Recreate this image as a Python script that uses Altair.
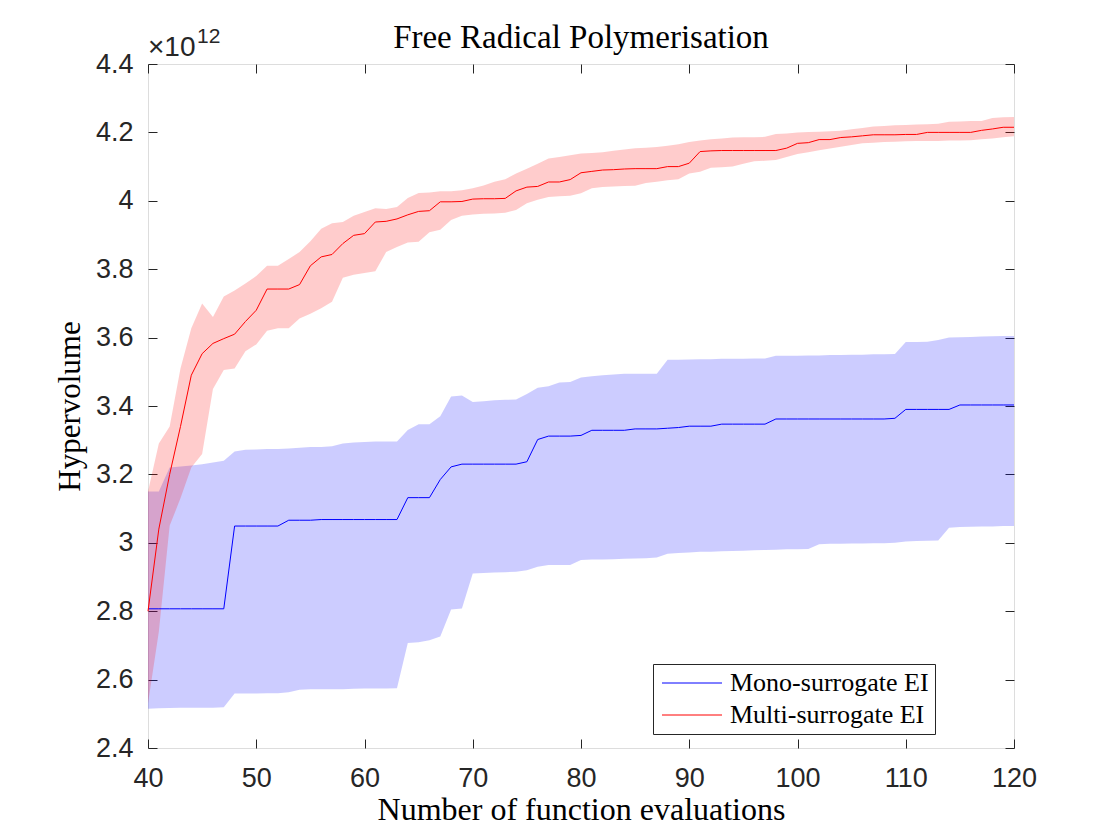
import altair as alt
import pandas as pd

# ---------------- data (values in units of 1e12) ----------------
evals = list(range(40, 121))

mono_mean = [
    2.807, 2.807, 2.807, 2.807, 2.807, 2.807, 2.807, 2.807, 3.049, 3.049,
    3.049, 3.049, 3.049, 3.066, 3.066, 3.066, 3.068, 3.068, 3.068, 3.068,
    3.068, 3.068, 3.068, 3.068, 3.132, 3.132, 3.132, 3.185, 3.222, 3.230,
    3.230, 3.230, 3.230, 3.230, 3.230, 3.237, 3.302, 3.312, 3.312, 3.312,
    3.314, 3.329, 3.329, 3.329, 3.329, 3.333, 3.333, 3.333, 3.335, 3.337,
    3.341, 3.341, 3.341, 3.347, 3.347, 3.347, 3.347, 3.347, 3.362, 3.362,
    3.362, 3.362, 3.362, 3.362, 3.362, 3.362, 3.362, 3.362, 3.362, 3.364,
    3.390, 3.390, 3.390, 3.390, 3.390, 3.403, 3.403, 3.403, 3.403, 3.403,
    3.403,
]
mono_hi = [
    3.150, 3.150, 3.220, 3.223, 3.226, 3.230, 3.235, 3.240, 3.267, 3.272,
    3.273, 3.274, 3.274, 3.276, 3.278, 3.280, 3.280, 3.282, 3.290, 3.293,
    3.295, 3.296, 3.296, 3.296, 3.330, 3.347, 3.347, 3.370, 3.428, 3.431,
    3.412, 3.414, 3.417, 3.418, 3.419, 3.435, 3.453, 3.458, 3.469, 3.470,
    3.483, 3.487, 3.490, 3.492, 3.494, 3.494, 3.494, 3.494, 3.535, 3.535,
    3.536, 3.537, 3.537, 3.538, 3.538, 3.538, 3.539, 3.539, 3.547, 3.547,
    3.547, 3.548, 3.548, 3.549, 3.549, 3.550, 3.550, 3.551, 3.551, 3.552,
    3.587, 3.587, 3.588, 3.593, 3.600, 3.601, 3.602, 3.603, 3.604, 3.605,
    3.605,
]
mono_lo = [
    2.515, 2.516, 2.517, 2.518, 2.518, 2.518, 2.518, 2.519, 2.559, 2.559,
    2.559, 2.560, 2.560, 2.563, 2.570, 2.572, 2.572, 2.572, 2.572, 2.573,
    2.574, 2.574, 2.574, 2.575, 2.707, 2.709, 2.715, 2.726, 2.805, 2.808,
    2.910, 2.912, 2.913, 2.914, 2.915, 2.920, 2.930, 2.935, 2.935, 2.935,
    2.950, 2.951, 2.951, 2.952, 2.953, 2.954, 2.955, 2.957, 2.968, 2.970,
    2.972, 2.974, 2.974, 2.975, 2.976, 2.977, 2.978, 2.979, 2.980, 2.981,
    2.981, 2.982, 2.996, 2.997, 2.997, 2.998, 2.998, 2.999, 2.999, 3.000,
    3.004, 3.005, 3.006, 3.007, 3.044, 3.046, 3.047, 3.048, 3.048, 3.049,
    3.049,
]

multi_mean = [
    2.800, 3.040, 3.200, 3.340, 3.490, 3.553, 3.583, 3.597, 3.610, 3.647,
    3.680, 3.742, 3.742, 3.742, 3.755, 3.810, 3.836, 3.843, 3.875, 3.899,
    3.904, 3.938, 3.940, 3.947, 3.959, 3.969, 3.971, 3.997, 3.997, 3.998,
    4.005, 4.006, 4.006, 4.007, 4.029, 4.040, 4.042, 4.055, 4.055, 4.062,
    4.082, 4.086, 4.090, 4.091, 4.093, 4.094, 4.094, 4.094, 4.100, 4.100,
    4.110, 4.144, 4.146, 4.147, 4.147, 4.147, 4.147, 4.147, 4.147, 4.154,
    4.168, 4.170, 4.179, 4.179, 4.185, 4.187, 4.190, 4.193, 4.193, 4.193,
    4.194, 4.194, 4.200, 4.200, 4.200, 4.200, 4.200, 4.206, 4.210, 4.215,
    4.215,
]
multi_hi = [
    3.150, 3.290, 3.340, 3.510, 3.627, 3.700, 3.660, 3.720, 3.738, 3.758,
    3.780, 3.810, 3.810, 3.830, 3.850, 3.882, 3.918, 3.934, 3.938, 3.956,
    3.967, 3.978, 3.976, 3.982, 4.008, 4.023, 4.024, 4.028, 4.028, 4.031,
    4.037, 4.045, 4.056, 4.063, 4.080, 4.094, 4.108, 4.124, 4.128, 4.133,
    4.138, 4.140, 4.142, 4.146, 4.150, 4.154, 4.155, 4.157, 4.161, 4.165,
    4.172, 4.176, 4.180, 4.182, 4.185, 4.186, 4.186, 4.187, 4.195, 4.197,
    4.200, 4.201, 4.202, 4.203, 4.205, 4.209, 4.213, 4.217, 4.219, 4.221,
    4.222, 4.223, 4.224, 4.225, 4.231, 4.232, 4.233, 4.233, 4.242, 4.244,
    4.245,
]
multi_lo = [
    2.530, 2.740, 3.050, 3.130, 3.220, 3.260, 3.450, 3.505, 3.510, 3.560,
    3.580, 3.620, 3.627, 3.627, 3.656, 3.670, 3.686, 3.705, 3.775, 3.784,
    3.789, 3.794, 3.850, 3.865, 3.878, 3.880, 3.908, 3.915, 3.944, 3.956,
    3.960, 3.962, 3.963, 3.965, 3.973, 3.993, 4.003, 4.011, 4.013, 4.015,
    4.022, 4.037, 4.040, 4.042, 4.043, 4.044, 4.052, 4.056, 4.060, 4.063,
    4.080, 4.085, 4.097, 4.098, 4.100, 4.108, 4.116, 4.117, 4.119, 4.128,
    4.137, 4.142, 4.148, 4.153, 4.158, 4.163, 4.168, 4.170, 4.172, 4.173,
    4.174, 4.175, 4.175, 4.175, 4.176, 4.176, 4.177, 4.180, 4.182, 4.186,
    4.189,
]

series_names = ["Mono-surrogate EI", "Multi-surrogate EI"]
series_colors = ["#0000ff", "#ff0000"]
x_ticks = [40, 50, 60, 70, 80, 90, 100, 110, 120]
y_ticks = [2.4, 2.6, 2.8, 3.0, 3.2, 3.4, 3.6, 3.8, 4.0, 4.2, 4.4]
title_text = "Free Radical Polymerisation"
x_title = "Number of function evaluations"
y_title = "Hypervolume"
exp_base = "\u00d710"
exp_power = "12"

# ---------------- build table ----------------
rows = []
for name, m, lo, hi in [
    (series_names[0], mono_mean, mono_lo, mono_hi),
    (series_names[1], multi_mean, multi_lo, multi_hi),
]:
    for e, a, b, c in zip(evals, m, lo, hi):
        rows.append({"evals": e, "mean": a, "lo": b, "hi": c, "method": name})
df = pd.DataFrame(rows)
ann = pd.DataFrame({"a": [0]})

AX = "#262626"
SANS = "Liberation Sans"
SERIF = "Liberation Serif"

xs = alt.Scale(domain=[40, 120], nice=False, zero=False)
ys = alt.Scale(domain=[2.4, 4.4], nice=False, zero=False)

common = dict(domain=False, grid=False, ticks=True, tickSize=9, offset=-9,
              tickColor=AX, tickWidth=1)

x_axis = alt.Axis(values=x_ticks, labelPadding=17, labelFlush=False,
                  labelOverlap=False, labelFont=SANS, labelFontSize=27,
                  labelColor=AX, title=x_title, titleFont=SERIF,
                  titleFontSize=32, titleFontWeight="normal",
                  titleColor="black", titlePadding=3, **common)
y_axis = alt.Axis(values=y_ticks, format="~g", labelPadding=15,
                  labelOverlap=False, labelBound=False, labelFont=SANS,
                  labelFontSize=27, labelColor=AX, title=y_title,
                  titleFont=SERIF, titleFontSize=31, titleFontWeight="normal",
                  titleColor="black", titlePadding=9, **common)
x_axis_top = alt.Axis(orient="top", values=x_ticks, labels=False, title=None,
                      **common)
y_axis_right = alt.Axis(orient="right", values=y_ticks, labels=False,
                        title=None, **common)

area_mono = (
    alt.Chart(df)
    .transform_filter(alt.datum.method == series_names[0])
    .mark_area(color=series_colors[0], opacity=0.2)
    .encode(
        x=alt.X("evals:Q", scale=xs, axis=x_axis),
        y=alt.Y("lo:Q", scale=ys, axis=y_axis),
        y2="hi:Q",
    )
)
area_multi = (
    alt.Chart(df)
    .transform_filter(alt.datum.method == series_names[1])
    .mark_area(color=series_colors[1], opacity=0.2)
    .encode(
        x=alt.X("evals:Q", scale=xs, axis=None),
        y=alt.Y("lo:Q", scale=ys, axis=None),
        y2="hi:Q",
    )
)
lines = (
    alt.Chart(df)
    .mark_line(strokeWidth=1)
    .encode(
        x=alt.X("evals:Q", scale=xs, axis=x_axis_top),
        y=alt.Y("mean:Q", scale=ys, axis=y_axis_right),
        color=alt.Color(
            "method:N",
            scale=alt.Scale(domain=series_names, range=series_colors),
            legend=alt.Legend(
                title=None, orient="none", legendX=505, legendY=600,
                symbolType="M-1,0H5", symbolSize=400, symbolStrokeWidth=1,
                labelFont=SERIF, labelFontSize=26, labelColor="black",
                labelOffset=45, labelLimit=400, padding=6, rowPadding=6,
                strokeColor=AX, fillColor="white", cornerRadius=0,
            ),
        ),
    )
)
exp1 = (
    alt.Chart(ann)
    .mark_text(text=exp_base, font=SANS, fontSize=28, color=AX,
               align="left", baseline="alphabetic", dx=0, dy=-8)
    .encode(x=alt.XDatum(40, scale=xs, axis=None),
            y=alt.YDatum(4.4, scale=ys, axis=None))
)
exp2 = (
    alt.Chart(ann)
    .mark_text(text=exp_power, font=SANS, fontSize=21, color=AX,
               align="left", baseline="alphabetic", dx=49, dy=-21)
    .encode(x=alt.XDatum(40, scale=xs, axis=None),
            y=alt.YDatum(4.4, scale=ys, axis=None))
)

chart = (
    alt.layer(area_mono, area_multi, lines, exp1, exp2)
    .resolve_axis(x="independent", y="independent")
    .properties(
        width=866, height=684,
        title=alt.TitleParams(title_text, font=SERIF, fontSize=33,
                              fontWeight="normal", color="black",
                              anchor="middle", offset=0, dy=29),
        autosize=alt.AutoSizeParams(type="none"),
        padding={"left": 140, "top": 56, "right": 98, "bottom": 84},
    )
    .configure_view(stroke=AX, strokeWidth=1)
    .configure(background="white")
)

chart.save("out.html", embed_options={"renderer": "svg", "actions": False})
